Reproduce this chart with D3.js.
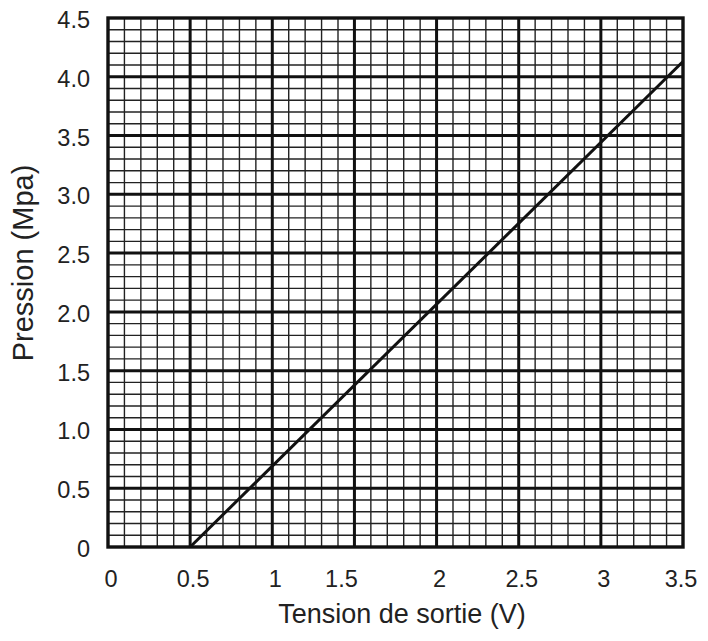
<!DOCTYPE html>
<html lang="fr">
    <head>
        <meta charset="utf-8">
        <title>Pression vs tension de sortie</title>
        <script type="text/javascript" src="https://d3js.org/d3.v7.min.js"></script>
        <style type="text/css">
            body { margin: 0; background: white; }
            text { font-family: "Liberation Sans", Arial, sans-serif; fill: #222; }
            .minor { stroke: #222; stroke-width: 1.4; }
            .major { stroke: #111; stroke-width: 3; }
            .frame { fill: none; stroke: #111; stroke-width: 3.4; }
        </style>
    </head>
<body>
    <script type="text/javascript">
        // tick values and labels
        var xTicks = [0, 0.5, 1, 1.5, 2, 2.5, 3, 3.5];
        var xTickLabels = ["0", "0.5", "1", "1.5", "2", "2.5", "3", "3.5"];
        var yTicks = [0, 0.5, 1, 1.5, 2, 2.5, 3, 3.5, 4, 4.5];
        var yTickLabels = ["0", "0.5", "1.0", "1.5", "2.0", "2.5", "3.0", "3.5", "4.0", "4.5"];

        // the calibration line
        var tension = [0.5, 3.5];
        var pression = [0, 4.13];

        var xTitle = "Tension de sortie (V)";
        var yTitle = "Pression (Mpa)";

        var w = 708;
        var h = 641;
        // ("top" is taken by window.top, so plot edges get their own names)
        var pLeft = 108, pRight = 683, pTop = 18, pBottom = 547;

        var x = d3.scaleLinear().domain([0, 3.5]).range([pLeft, pRight]);
        var y = d3.scaleLinear().domain([0, 4.5]).range([pBottom, pTop]);

        var svg = d3.select("body")
            .append("svg")
            .attr("width", w)
            .attr("height", h);

        // minor grid every 0.1
        var xMinor = d3.range(1, 35).map(function(i) { return i / 10; });
        var yMinor = d3.range(1, 45).map(function(i) { return i / 10; });

        svg.append("g").selectAll("line")
            .data(xMinor)
            .enter()
            .append("line")
            .attr("class", "minor")
            .attr("x1", function(d) { return x(d); })
            .attr("x2", function(d) { return x(d); })
            .attr("y1", pTop)
            .attr("y2", pBottom);

        svg.append("g").selectAll("line")
            .data(yMinor)
            .enter()
            .append("line")
            .attr("class", "minor")
            .attr("y1", function(d) { return y(d); })
            .attr("y2", function(d) { return y(d); })
            .attr("x1", pLeft)
            .attr("x2", pRight);

        // major grid every 0.5
        svg.append("g").selectAll("line")
            .data(xTicks.slice(1, -1))
            .enter()
            .append("line")
            .attr("class", "major")
            .attr("x1", function(d) { return x(d); })
            .attr("x2", function(d) { return x(d); })
            .attr("y1", pTop)
            .attr("y2", pBottom);

        svg.append("g").selectAll("line")
            .data(yTicks.slice(1, -1))
            .enter()
            .append("line")
            .attr("class", "major")
            .attr("y1", function(d) { return y(d); })
            .attr("y2", function(d) { return y(d); })
            .attr("x1", pLeft)
            .attr("x2", pRight);

        svg.append("rect")
            .attr("class", "frame")
            .attr("x", pLeft)
            .attr("y", pTop)
            .attr("width", pRight - pLeft)
            .attr("height", pBottom - pTop);

        // data line
        var pts = tension.map(function(v, i) { return [v, pression[i]]; });
        svg.append("path")
            .datum(pts)
            .attr("fill", "none")
            .attr("stroke", "#111")
            .attr("stroke-width", 3)
            .attr("d", d3.line()
                .x(function(d) { return x(d[0]); })
                .y(function(d) { return y(d[1]); }));

        // tick labels
        svg.append("g").selectAll("text")
            .data(xTicks)
            .enter()
            .append("text")
            .text(function(d, i) { return xTickLabels[i]; })
            .attr("text-anchor", "middle")
            .attr("x", function(d) { return x(d) + (d === 1.5 ? -13 : d === 3.5 ? -2 : 3); })
            .attr("y", 587)
            .attr("font-size", "23.5px");

        svg.append("g").selectAll("text")
            .data(yTicks)
            .enter()
            .append("text")
            .text(function(d, i) { return yTickLabels[i]; })
            .attr("text-anchor", "end")
            .attr("x", 90)
            .attr("y", function(d) { return y(d) + 10; })
            .attr("font-size", "23.5px");

        // axis titles
        svg.append("text")
            .text(xTitle)
            .attr("text-anchor", "middle")
            .attr("x", 402)
            .attr("y", 623)
            .attr("font-size", "27px");

        svg.append("text")
            .text(yTitle)
            .attr("text-anchor", "middle")
            .attr("transform", "translate(33,263) rotate(-90)")
            .attr("font-size", "29px");
    </script>
</body>
</html>
